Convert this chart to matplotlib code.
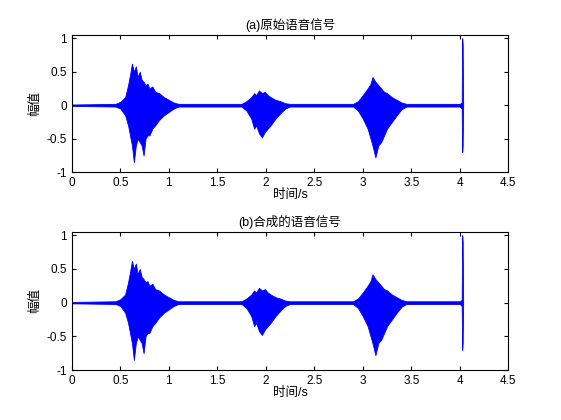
import matplotlib
matplotlib.use('Agg')
import matplotlib.pyplot as plt

plt.rcParams['font.family'] = ['Liberation Sans', 'Noto Sans CJK SC', 'DejaVu Sans']

# envelope of the waveform (time s, upper, lower)
t = [0, 0.45, 0.5, 0.55, 0.58, 0.6, 0.62, 0.64, 0.66, 0.68, 0.7, 0.72, 0.74, 0.76,
     0.78, 0.8, 0.83, 0.86, 0.9, 0.95, 1.0, 1.05, 1.1, 1.75, 1.8, 1.85, 1.88, 1.9,
     1.93, 1.96, 1.99, 2.02, 2.05, 2.1, 2.15, 2.2, 2.25, 2.9, 2.95, 3.0, 3.05, 3.08,
     3.1, 3.13, 3.16, 3.19, 3.22, 3.25, 3.3, 3.35, 3.4, 3.45, 4.0, 4.02, 4.025, 4.03,
     4.035]
upper = [0.01, 0.02, 0.05, 0.12, 0.3, 0.45, 0.62, 0.5, 0.58, 0.42, 0.5, 0.38, 0.35, 0.3,
         0.32, 0.25, 0.28, 0.2, 0.18, 0.12, 0.08, 0.04, 0.02, 0.02, 0.06, 0.12, 0.18, 0.15,
         0.22, 0.18, 0.2, 0.15, 0.12, 0.08, 0.06, 0.03, 0.02, 0.02, 0.06, 0.15, 0.25, 0.32,
         0.42, 0.35, 0.3, 0.25, 0.2, 0.18, 0.12, 0.08, 0.04, 0.02, 0.02, 0.04, 1.0, 0.9,
         0.0]
lower = [-0.01, -0.02, -0.05, -0.15, -0.3, -0.45, -0.6, -0.85, -0.6, -0.5, -0.55, -0.6,
         -0.75, -0.5, -0.45, -0.45, -0.35, -0.3, -0.22, -0.15, -0.1, -0.05, -0.02, -0.02,
         -0.08, -0.2, -0.35, -0.3, -0.42, -0.48, -0.4, -0.35, -0.3, -0.2, -0.12, -0.05,
         -0.02, -0.02, -0.08, -0.2, -0.35, -0.5, -0.6, -0.78, -0.6, -0.55, -0.45, -0.35,
         -0.25, -0.15, -0.06, -0.02, -0.02, -0.05, -0.7, -0.6, 0.0]

titles = ['(a)原始语音信号', '(b)合成的语音信号']
xticks = [0, 0.5, 1, 1.5, 2, 2.5, 3, 3.5, 4, 4.5]
yticks = [-1, -0.5, 0, 0.5, 1]

fig = plt.figure(figsize=(5.61, 4.2), dpi=100)
boxes = [[0.128, 0.59, 0.778, 0.327], [0.128, 0.119, 0.778, 0.329]]
for box, title in zip(boxes, titles):
    ax = fig.add_axes(box)
    ax.fill_between(t, lower, upper, color='#0000ff', linewidth=0.6)
    ax.plot([0, 4.035], [0, 0], color='#0000ff', linewidth=0.8, solid_capstyle='butt')
    ax.set_xlim(0, 4.5)
    ax.set_ylim(-1, 1.05)
    ax.set_xticks(xticks)
    ax.set_xticklabels(['0', '0.5', '1', '1.5', '2', '2.5', '3', '3.5', '4', '4.5'])
    ax.set_yticks(yticks)
    ax.set_yticklabels(['-1', '-0.5', '0', '0.5', '1'])
    ax.tick_params(direction='in', labelsize=8.5, length=3, top=True, right=True)
    ax.set_title(title, fontsize=9, pad=4)
    ax.set_xlabel('时间/s', fontsize=9, labelpad=0)
    ax.set_ylabel('幅值', fontsize=9)

fig.savefig('out.png', dpi=100, facecolor='white')
